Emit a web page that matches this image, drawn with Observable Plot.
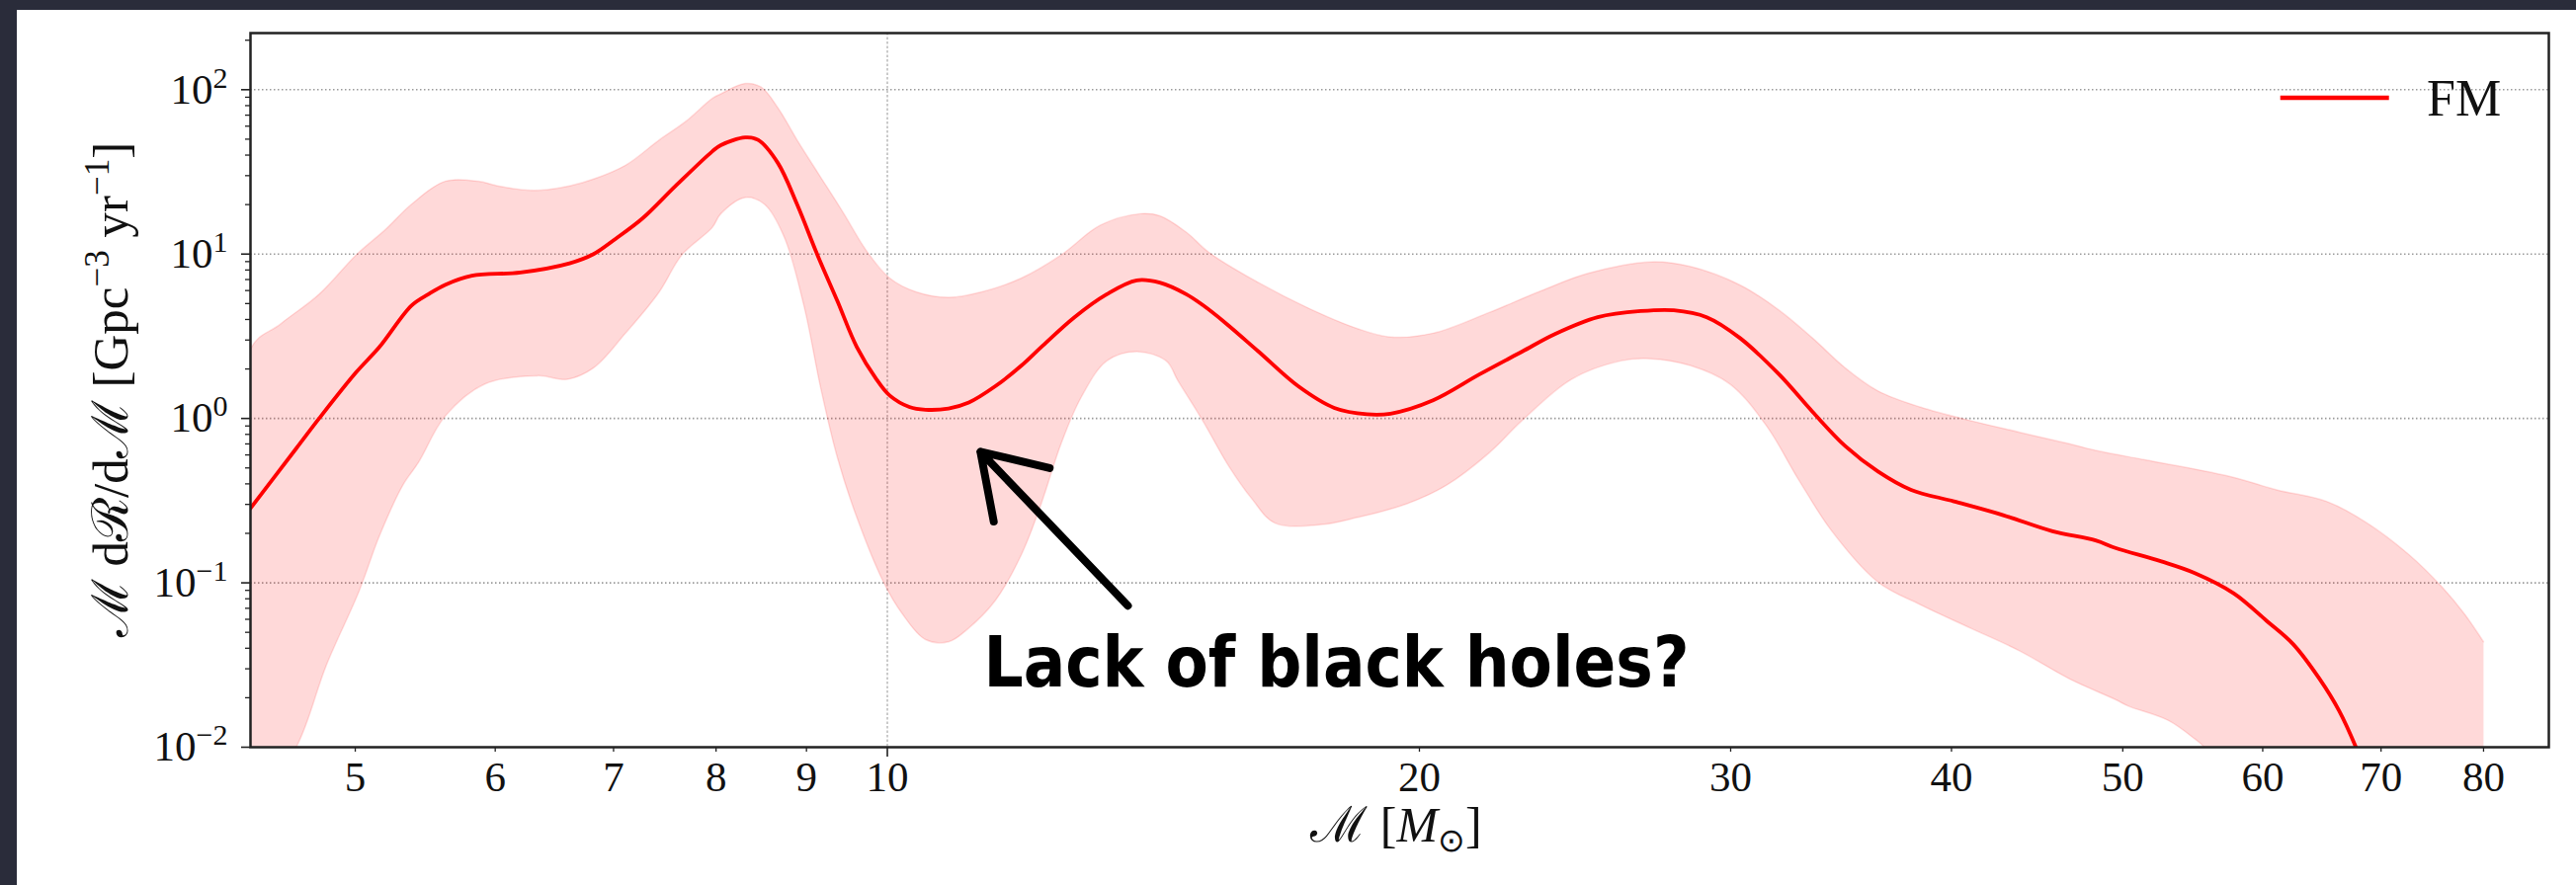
<!DOCTYPE html>
<html><head><meta charset="utf-8">
<script src="https://cdn.jsdelivr.net/npm/d3@7"></script>
<script src="https://cdn.jsdelivr.net/npm/@observablehq/plot@0.6"></script>
<style>
html,body{margin:0;padding:0;background:#2a2c3a;width:2607px;height:896px;overflow:hidden}
#panel{position:absolute;left:17px;top:10px;width:2590px;height:886px;background:#fff}
</style></head><body><div id="panel"></div>
<script>
// Median (FM) curve
const lineX = [4.362,4.63,4.77,5.005,5.16,5.38,5.50,5.62,5.82,6.20,6.61,6.82,7.02,7.27,7.59,7.96,8.05,8.31,8.45,8.67,8.89,9.13,9.37,9.61,9.86,10.03,10.29,10.51,10.83,11.12,11.51,11.91,12.22,12.76,13.31,13.84,14.26,14.76,15.08,15.54,16.22,17.08,17.90,18.68,19.26,20.36,21.62,22.86,23.86,25.23,26.69,27.86,29.08,30.36,31.96,33.37,34.83,36.35,37.95,40.13,42.79,45.63,48.26,49.52,52.58,54.88,57.79,60.32,62.42,64.60,66.29,67.72,69.0];
const lineY = [0.284,0.657,1.0,1.905,2.72,4.86,5.70,6.49,7.38,7.73,8.79,10.0,12.4,16.5,26.0,42.1,46.0,51.2,49.5,35.9,20.1,9.87,5.18,2.72,1.73,1.38,1.175,1.13,1.15,1.25,1.57,2.10,2.72,4.13,5.70,6.92,6.70,5.7,4.9,3.8,2.55,1.57,1.16,1.06,1.07,1.29,1.85,2.55,3.26,4.13,4.50,4.55,4.13,3.09,1.85,1.10,0.679,0.476,0.368,0.313,0.258,0.206,0.181,0.163,0.135,0.115,0.0862,0.0586,0.0424,0.0261,0.0166,0.0101,0.006];
// Upper edge of the credible band
const upperX = [4.362,4.535,4.77,5.005,5.20,5.38,5.62,5.87,6.02,6.31,6.61,6.82,7.11,7.43,7.69,7.96,8.05,8.31,8.48,8.67,8.89,9.13,9.45,9.73,10.03,10.38,10.83,11.31,11.91,12.54,13.20,13.90,14.26,14.76,15.21,16.22,17.30,18.45,19.26,20.36,21.90,23.36,24.91,27.03,28.46,30.36,31.96,33.37,34.83,36.35,38.43,40.99,43.72,46.63,48.26,51.46,57.30,61.11,65.19,68.62,72.56,75.74,78.05,80];
const upperY = [2.63,3.75,5.70,9.87,14.1,20.1,27.7,27.7,26.0,24.4,26.0,28.6,34.7,49.5,64.1,88.5,94.4,109,104,77.8,49.5,31.5,17.6,10.5,7.15,5.89,5.45,5.89,7.15,9.87,15.0,17.6,17.1,13.6,10.2,6.70,4.70,3.52,3.13,3.30,4.41,5.89,7.63,8.96,8.40,6.49,4.55,3.09,2.03,1.47,1.17,0.97,0.824,0.701,0.64,0.560,0.447,0.368,0.313,0.234,0.149,0.095,0.0645,0.0438];
// Lower edge of the credible band
const lowerX = [4.362,4.63,4.816,5.025,5.16,5.32,5.43,5.62,5.92,6.34,6.59,6.82,7.11,7.43,7.65,7.96,8.05,8.31,8.52,8.74,8.97,9.17,9.37,9.61,9.95,10.20,10.51,10.83,11.12,11.51,11.91,12.22,12.54,12.87,13.31,13.84,14.38,14.6,15.08,15.61,16.08,16.57,17.67,18.45,19.68,20.72,21.90,22.86,24.38,26.00,27.03,28.46,29.97,31.42,32.80,34.23,36.35,38.43,40.99,43.72,46.63,49.52,50.36,53.03,54.88,55.6,58,80];
const lowerY = [0.004,0.01,0.0317,0.0891,0.193,0.393,0.542,1.03,1.62,1.82,1.73,2.03,3.30,5.89,9.87,14.5,17.6,22.1,20.1,12.8,4.86,1.52,0.578,0.25,0.101,0.0645,0.0452,0.0438,0.0531,0.078,0.149,0.303,0.701,1.34,2.24,2.55,2.24,1.7,0.97,0.508,0.324,0.231,0.227,0.25,0.303,0.393,0.617,0.97,1.73,2.24,2.31,2.10,1.62,0.908,0.419,0.206,0.101,0.0734,0.0531,0.0385,0.0261,0.0195,0.0178,0.0146,0.0113,0.01,0.005,0.004];

const xTicksMinor = [5,6,7,8,9,20,30,40,50,60,70,80];
const xTicksMajor = [10];
const yTickExps = [-2,-1,0,1,2];
const legendLabel = "FM";
const annotationText = "Lack of black holes?";
const annotationAt = [{x: 17.95, y: 0.0233}];
const arrowData = [{x1: 13.68, y1: 0.0726, x2: 11.29, y2: 0.627}];

const serif = "'Liberation Serif','Times New Roman',serif";
const W = 2590, H = 886, ML = 236, MT = 23, MR = 28, MB = 140;
const FW = W - ML - MR, FH = H - MT - MB;
const line = lineX.map((x, i) => ({x, y: lineY[i]}));
// polygon: lower edge right-to-left, then upper edge left-to-right (closing edge at x = 80 stays straight)
const band = lowerX.map((x, i) => ({x, y: lowerY[i]})).reverse()
  .concat(upperX.map((x, i) => ({x, y: upperY[i]})));
const yMajor = yTickExps.map(e => 10 ** e);
const yMinor = [];
for (let d = -2; d <= 2; d++) for (let k = 2; k <= 9; k++) { const v = k * 10 ** d; if (v <= 221) yMinor.push(v); }
const xAll = xTicksMinor.concat(xTicksMajor);

const chart = Plot.plot({
  width: W, height: H,
  marginLeft: ML, marginTop: MT, marginRight: MR, marginBottom: MB,
  style: {fontFamily: serif, fontSize: "43px", background: "transparent", color: "#111"},
  x: {type: "log", domain: [4.362, 87.1], axis: null},
  y: {type: "log", domain: [0.01, 221], axis: null},
  marks: [
    Plot.ruleY(yMajor.slice(1), {stroke: "#9a9a9a", strokeDasharray: "1.5,2.5", strokeWidth: 1.6}),
    Plot.ruleX(xTicksMajor, {stroke: "#a8a8a8", strokeDasharray: "2.5,2", strokeWidth: 1.2}),
    Plot.line(band, {x: "x", y: "y", curve: "catmull-rom", fill: "#ff0000", fillOpacity: 0.15, stroke: "#ff0000", strokeOpacity: 0.12, strokeWidth: 1.5, clip: true}),
    Plot.line(line, {x: "x", y: "y", curve: "catmull-rom", stroke: "#ff0000", strokeWidth: 3.8, clip: true}),
    Plot.arrow(arrowData, {x1: "x1", y1: "y1", x2: "x2", y2: "y2", stroke: "#000", strokeWidth: 8, headLength: 30, headAngle: 66, strokeLinecap: "round"}),
    Plot.text(annotationAt, {x: "x", y: "y", text: () => annotationText, fontSize: 72, fontWeight: "bold", fontFamily: "'DejaVu Sans Condensed','DejaVu Sans',sans-serif", textAnchor: "middle", lineAnchor: "bottom", fill: "#000"}),
    // y ticks (outward)
    Plot.ruleY(yMajor, {insetLeft: -9, insetRight: FW, stroke: "#222", strokeWidth: 1.6}),
    Plot.ruleY(yMinor, {insetLeft: -5, insetRight: FW, stroke: "#222", strokeWidth: 1.3}),
    Plot.text(yMajor, {y: d => d, text: d => "10^" + Math.round(Math.log10(d)), frameAnchor: "left", dx: -23, textAnchor: "end", fontSize: 43, fill: "#111"}),
    // x ticks (outward)
    Plot.ruleX(xTicksMinor, {insetTop: FH, insetBottom: -5, stroke: "#222", strokeWidth: 1.3}),
    Plot.ruleX(xTicksMajor, {insetTop: FH, insetBottom: -10, stroke: "#222", strokeWidth: 1.6}),
    Plot.text(xAll, {x: d => d, text: d => String(d), frameAnchor: "bottom", dy: 14, lineAnchor: "top", fontSize: 43, fill: "#111"}),
    Plot.frame({stroke: "#222", strokeWidth: 2.5})
  ]
});
document.getElementById("panel").appendChild(chart);

const svg = d3.select(chart);
// superscript exponents on y tick labels
svg.selectAll("text").each(function() {
  const t = this.textContent;
  if (/^10\^-?\d$/.test(t)) {
    const e = t.split("^")[1].replace("-", "\u2212");
    const sel = d3.select(this);
    sel.text("10");
    sel.append("tspan").attr("dy", "-16").attr("font-size", "30px").text(e);
  }
  if (t === annotationText) {
    d3.select(this).attr("textLength", 714).attr("lengthAdjust", "spacingAndGlyphs");
  }
});

// legend
svg.append("line").attr("x1", 2290.7).attr("x2", 2400.7).attr("y1", 89).attr("y2", 89)
  .attr("stroke", "#ff0000").attr("stroke-width", 4.5);
svg.append("text").attr("x", 2439).attr("y", 107).attr("text-anchor", "start").attr("font-family", serif)
  .attr("font-size", 52).attr("fill", "#111").text(legendLabel);

// y label
const yl = svg.append("text").attr("transform", "translate(112,384.5) rotate(-90)")
  .attr("text-anchor", "middle").attr("font-family", serif).attr("font-size", 51).attr("fill", "#111");
yl.append("tspan").text("\u2133 d\u211B/d\u2133 [Gpc");
yl.append("tspan").attr("dy", -19).attr("font-size", 35).text("\u22123");
yl.append("tspan").attr("dy", 19).text(" yr");
yl.append("tspan").attr("dy", -19).attr("font-size", 35).text("\u22121");
yl.append("tspan").attr("dy", 19).text("]");

// x label
const xl = svg.append("text").attr("x", 1396).attr("y", 842)
  .attr("text-anchor", "middle").attr("font-family", serif).attr("font-size", 50).attr("fill", "#111");
xl.append("tspan").text("\u2133 [");
xl.append("tspan").attr("font-style", "italic").text("M");
xl.append("tspan").attr("dy", 10).attr("font-size", 33).text("\u2299");
xl.append("tspan").attr("dy", -10).text("]");
</script>
</body></html>
